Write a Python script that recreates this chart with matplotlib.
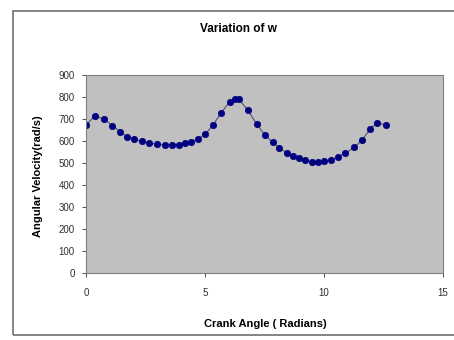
import matplotlib
matplotlib.use("Agg")
import matplotlib.pyplot as plt
from matplotlib.patches import Rectangle

plt.rcParams['font.family'] = ['Liberation Sans', 'DejaVu Sans']

crank_angle = [0.0, 0.378, 0.756, 1.105, 1.429, 1.735, 2.017, 2.34, 2.66, 2.995,
               3.32, 3.61, 3.91, 4.18, 4.41, 4.71, 5.02, 5.34, 5.67, 6.03,
               6.26, 6.43, 6.81, 7.17, 7.52, 7.84, 8.13, 8.43, 8.71, 8.95,
               9.21, 9.50, 9.75, 10.02, 10.29, 10.59, 10.90, 11.28, 11.60, 11.93,
               12.21, 12.60]
omega = [673, 714, 700, 670, 642, 620, 608, 598, 591, 585,
         582, 582, 584, 591, 597, 609, 632, 673, 727, 777,
         793, 789, 739, 677, 627, 594, 567, 547, 532, 521,
         512, 506, 503, 507, 514, 529, 545, 571, 605, 653,
         682, 674]

x_ticks = [0, 5, 10, 15]
y_ticks = [0, 100, 200, 300, 400, 500, 600, 700, 800, 900]
title = "Variation of w"
xlabel = "Crank Angle ( Radians)"
ylabel = "Angular Velocity(rad/s)"

fig = plt.figure(figsize=(4.54, 3.4), dpi=100)
fig.patch.set_facecolor('white')
# outer chart-area border
fig.add_artist(Rectangle((13/454, 1 - 335/340), 1.2, (335 - 11)/340,
                         transform=fig.transFigure, fill=False,
                         edgecolor='#707070', linewidth=1.2))

ax = fig.add_axes([86/454, 1 - 273/340, (443 - 86)/454, (273 - 75)/340])
ax.set_facecolor('#C0C0C0')
ax.plot(crank_angle, omega, color='#505070', linewidth=0.8,
        marker='o', markersize=4.6, markerfacecolor='#000080',
        markeredgecolor='#000080', markeredgewidth=0.5)
ax.set_xlim(0, 15)
ax.set_ylim(0, 900)
ax.set_xticks(x_ticks)
ax.set_yticks(y_ticks)
ax.tick_params(labelsize=7, length=3, width=0.6, colors='#303030', direction='out')
ax.tick_params(axis='x', pad=8)
ax.tick_params(axis='y', pad=5)
for s in ax.spines.values():
    s.set_color('#808080')
    s.set_linewidth(0.8)

fig.text(238/454, 1 - 29/340, title, ha='center', va='center',
         fontsize=8.5, fontweight='bold')
fig.text(265/454, 1 - 324/340, xlabel, ha='center', va='center',
         fontsize=8, fontweight='bold')
fig.text(38/454, 1 - 176/340, ylabel, ha='center', va='center',
         fontsize=8, fontweight='bold', rotation=90)

fig.savefig("out.png", dpi=100)
